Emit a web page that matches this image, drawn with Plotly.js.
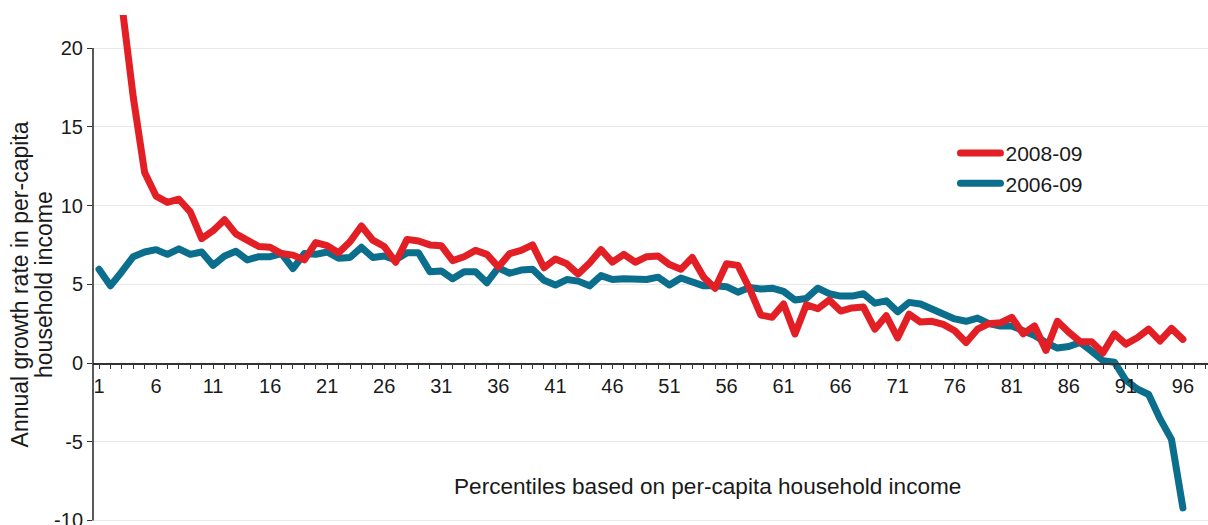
<!DOCTYPE html>
<html>
<head>
<meta charset="utf-8">
<script src="https://cdn.plot.ly/plotly-3.0.1.min.js"></script>
<style>
  html, body { margin: 0; padding: 0; background: #fff; }
  #chart { width: 1208px; height: 525px; }
  .scatterlayer path.js-line { stroke-linejoin: round; stroke-linecap: round; }
  .legendlines path { stroke-linecap: round; }
</style>
</head>
<body>
<div id="chart"></div>
<script>
// Percentiles (x categories)
const percentiles = [
  1, 2, 3, 4, 5, 6, 7, 8, 9, 10, 11, 12, 13, 14, 15, 16, 17, 18, 19, 20,
  21, 22, 23, 24, 25, 26, 27, 28, 29, 30, 31, 32, 33, 34, 35, 36, 37, 38, 39, 40,
  41, 42, 43, 44, 45, 46, 47, 48, 49, 50, 51, 52, 53, 54, 55, 56, 57, 58, 59, 60,
  61, 62, 63, 64, 65, 66, 67, 68, 69, 70, 71, 72, 73, 74, 75, 76, 77, 78, 79, 80,
  81, 82, 83, 84, 85, 86, 87, 88, 89, 90, 91, 92, 93, 94, 95, 96
];

// Annual growth rate, 2008-09 (first two points run off the top of the chart)
const growth2008_09 = [
  45, 32, 22.8, 16.9, 12.1, 10.6, 10.2, 10.4, 9.6, 7.9,
  8.4, 9.1, 8.2, 7.8, 7.4, 7.35, 6.95, 6.85, 6.55, 7.65,
  7.45, 7.0, 7.7, 8.7, 7.8, 7.4, 6.4, 7.85, 7.75, 7.5,
  7.45, 6.5, 6.75, 7.15, 6.9, 6.1, 6.95, 7.15, 7.5, 6.05,
  6.6, 6.3, 5.65, 6.35, 7.2, 6.4, 6.9, 6.4, 6.75, 6.8,
  6.25, 5.95, 6.7, 5.45, 4.75, 6.3, 6.2, 4.75, 3.05, 2.9,
  3.75, 1.85, 3.7, 3.45, 4.0, 3.3, 3.5, 3.55, 2.15, 3.0,
  1.6, 3.1, 2.6, 2.65, 2.45, 2.05, 1.3, 2.15, 2.5, 2.55,
  2.9, 1.85, 2.35, 0.8, 2.65, 1.95, 1.35, 1.35, 0.65, 1.85,
  1.2, 1.6, 2.15, 1.4, 2.2, 1.5
];

// Annual growth rate, 2006-09
const growth2006_09 = [
  5.95, 4.9, 5.8, 6.75, 7.05, 7.2, 6.9, 7.25, 6.9, 7.05,
  6.2, 6.8, 7.1, 6.55, 6.75, 6.75, 6.95, 6.0, 6.95, 6.9,
  7.05, 6.65, 6.7, 7.35, 6.7, 6.8, 6.55, 7.0, 7.0, 5.8,
  5.85, 5.35, 5.8, 5.8, 5.1, 6.05, 5.7, 5.9, 5.95, 5.25,
  4.95, 5.3, 5.2, 4.9, 5.55, 5.3, 5.35, 5.35, 5.3, 5.45,
  4.95, 5.4, 5.15, 4.9, 4.9, 4.85, 4.5, 4.8, 4.7, 4.75,
  4.55, 4.0, 4.1, 4.75, 4.4, 4.25, 4.25, 4.4, 3.8, 3.95,
  3.25, 3.85, 3.75, 3.45, 3.15, 2.8, 2.65, 2.85, 2.5, 2.35,
  2.35, 2.1, 1.75, 1.3, 0.95, 1.05, 1.3, 0.75, 0.15, 0.05,
  -1.1, -1.65, -2.0, -3.55, -4.85, -9.2
];

const seriesNames = ['2008-09', '2006-09'];
const xTickLabels = ['1', '6', '11', '16', '21', '26', '31', '36', '41', '46', '51', '56', '61', '66', '71', '76', '81', '86', '91', '96'];
const yTickValues = [-10, -5, 0, 5, 10, 15, 20];
const yTitleLines = ['Annual growth rate in per-capita', 'household income'];
const xTitle = 'Percentiles based on per-capita household income';

const RED = '#e31f26';
const BLUE = '#0b6e8d';
const TEXT = '#1a1a1a';
const FONT = '"Liberation Sans", Arial, Helvetica, sans-serif';

const yMin = -10.16, yMax = 22.1;

const traces = [
  {
    x: percentiles, y: growth2006_09, name: seriesNames[1],
    type: 'scatter', mode: 'lines',
    line: { color: BLUE, width: 7 },
    hoverinfo: 'x+y+name'
  },
  {
    x: percentiles, y: growth2008_09, name: seriesNames[0],
    type: 'scatter', mode: 'lines',
    line: { color: RED, width: 7 },
    hoverinfo: 'x+y+name'
  }
];

const layout = {
  width: 1208, height: 525,
  margin: { l: 93, r: 0, t: 15, b: 2, pad: 0 },
  paper_bgcolor: '#ffffff', plot_bgcolor: '#ffffff',
  font: { family: FONT, color: TEXT, size: 20 },
  showlegend: true,
  legend: {
    x: 0.7735, y: 0.768, xanchor: 'left', yanchor: 'top',
    traceorder: 'reversed',
    font: { family: FONT, size: 21, color: TEXT },
    bgcolor: 'rgba(0,0,0,0)', borderwidth: 0,
    itemwidth: 40
  },
  xaxis: {
    range: [0.474, 98.2],
    anchor: 'free',
    position: (0 - yMin) / (yMax - yMin),
    showline: true, linecolor: '#333', linewidth: 1.5,
    showgrid: false, zeroline: false,
    tickmode: 'array',
    tickvals: xTickLabels.map(Number),
    ticktext: xTickLabels,
    ticks: 'outside', ticklen: 4, tickwidth: 1, tickcolor: '#333',
    tickfont: { family: FONT, size: 20, color: TEXT },
    minor: { tickmode: 'linear', tick0: 1, dtick: 1, ticks: 'outside', ticklen: 4, tickwidth: 1, tickcolor: '#333', showgrid: false },
    fixedrange: true
  },
  yaxis: {
    range: [yMin, yMax],
    tickmode: 'array',
    tickvals: yTickValues,
    ticktext: yTickValues.map(String),
    ticks: 'outside', ticklen: 5, tickwidth: 1, tickcolor: '#333',
    tickfont: { family: FONT, size: 20, color: TEXT },
    ticklabeloverflow: 'allow',
    showline: false, zeroline: false,
    showgrid: true, gridcolor: '#e8e8e8', gridwidth: 1,
    fixedrange: true
  },
  shapes: [
    {
      type: 'line', xref: 'paper', yref: 'y',
      x0: 0, x1: 0, y0: yTickValues[0], y1: yTickValues[yTickValues.length - 1],
      line: { color: '#222', width: 1.5 }, layer: 'above'
    }
  ],
  annotations: [
    {
      text: yTitleLines[0], textangle: -90, showarrow: false,
      xref: 'paper', yref: 'paper', x: -0.0646, y: 0.4695,
      xanchor: 'center', yanchor: 'middle',
      font: { family: FONT, size: 23, color: TEXT }
    },
    {
      text: yTitleLines[1], textangle: -90, showarrow: false,
      xref: 'paper', yref: 'paper', x: -0.0435, y: 0.4695,
      xanchor: 'center', yanchor: 'middle',
      font: { family: FONT, size: 23, color: TEXT }
    },
    {
      text: xTitle, showarrow: false,
      xref: 'paper', yref: 'paper', x: 0.5507, y: 0.0709,
      xanchor: 'center', yanchor: 'middle',
      font: { family: FONT, size: 22.6, color: TEXT }
    }
  ]
};

Plotly.newPlot('chart', traces, layout, { displayModeBar: false, staticPlot: true });
</script>
</body>
</html>
